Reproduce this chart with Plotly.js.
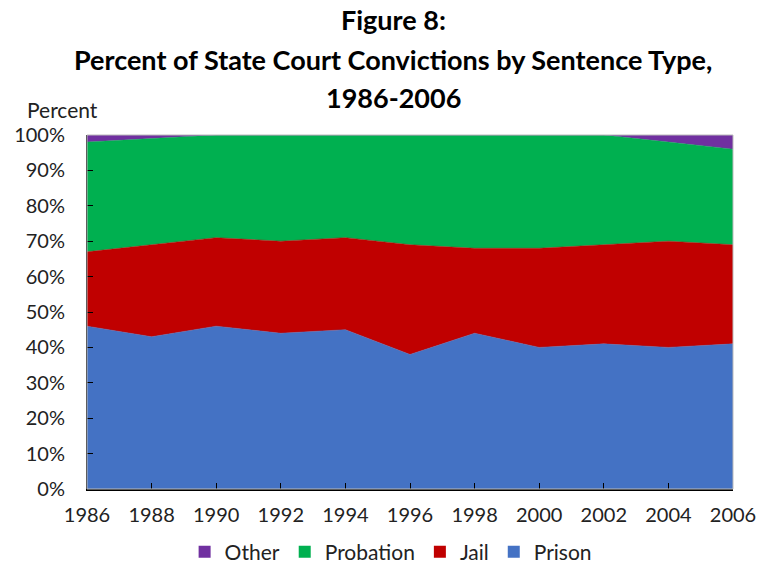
<!DOCTYPE html>
<html><head><meta charset="utf-8">
<script src="https://cdn.plot.ly/plotly-3.0.1.min.js"></script>
<style>body{margin:0;background:#fff}#c{width:760px;height:563px}</style>
</head><body><div id="c"></div>
<script>
const years = [1986,1988,1990,1992,1994,1996,1998,2000,2002,2004,2006];
const prison = [46,43,46,44,45,38,44,40,41,40,41];
const jail = [21,26,25,26,26,31,24,28,28,30,28];
const probation = [31,30,29,30,29,31,32,32,31,28,27];
const other = [2,1,0,0,0,0,0,0,0,2,4];
const seriesNames = ['Prison','Jail','Probation','Other'];
const seriesColors = ['#4472C4','#C00000','#00B050','#7030A0'];
const seriesValues = [prison, jail, probation, other];

const font = "Lato, 'Open Sans', sans-serif";
const data = [];
seriesNames.forEach((n,i)=>{
  data.push({x: years, y: seriesValues[i], name: n, type:'scatter', mode:'lines', stackgroup:'one',
    line:{width:0.5, color:seriesColors[i]}, fillcolor:seriesColors[i], showlegend:false});
});
// legend entries (square swatches), listed Other, Probation, Jail, Prison
[3,2,1,0].forEach(i=>{
  data.push({x:[null], y:[null], name: seriesNames[i], type:'scatter', mode:'markers',
    marker:{symbol:'square', size:12, color:seriesColors[i]}, showlegend:true});
});
const layout = {
  width:760, height:563,
  margin:{l:87, r:27, t:135, b:74, autoexpand:false},
  paper_bgcolor:'#fff', plot_bgcolor:'#fff',
  font:{family:font, size:20, color:'#222'},
  xaxis:{range:[1986,2006], tickvals:years, ticks:'inside', ticklen:6, tickcolor:'#000',
    showline:true, linecolor:'#000', linewidth:1.5, showgrid:false, zeroline:false,
    tickfont:{size:20}, ticklabelstandoff:7},
  yaxis:{range:[0,100], dtick:10, ticksuffix:'%', ticks:'inside', ticklen:6, tickcolor:'#000',
    showline:true, linecolor:'#000', linewidth:1, showgrid:false, zeroline:false,
    tickfont:{size:20}, ticklabelstandoff:17},
  legend:{orientation:'h', x:0.47, xanchor:'center', y:-0.178, yanchor:'middle',
    traceorder:'normal', font:{size:21}, itemwidth:30},
  showlegend:true,
  annotations:[
    {text:'<b>Figure 8:</b>', xref:'paper', yref:'paper', x:0.474, y:1.325, xanchor:'center', yanchor:'middle', showarrow:false, font:{size:27, color:'#000'}},
    {text:'<b>Percent of State Court Convictions by Sentence Type,</b>', xref:'paper', yref:'paper', x:0.474, y:1.212, xanchor:'center', yanchor:'middle', showarrow:false, font:{size:27, color:'#000'}},
    {text:'<b>1986-2006</b>', xref:'paper', yref:'paper', x:0.474, y:1.107, xanchor:'center', yanchor:'middle', showarrow:false, font:{size:27, color:'#000'}},
    {text:'Percent', xref:'paper', yref:'paper', x:-0.096, y:1.071, xanchor:'left', yanchor:'middle', showarrow:false, font:{size:21, color:'#222'}}
  ],
  shapes:[{type:'rect', xref:'paper', yref:'paper', x0:0, x1:1, y0:0, y1:1, line:{color:'#bbb', width:1}}]
};
Plotly.newPlot('c', data, layout, {displayModeBar:false});
</script></body></html>
